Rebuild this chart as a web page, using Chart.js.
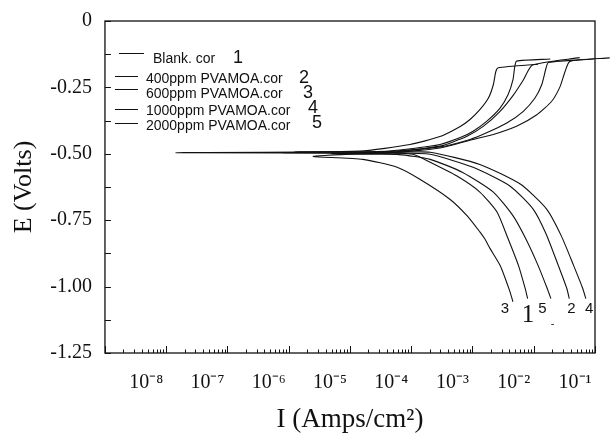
<!DOCTYPE html>
<html>
<head>
<meta charset="utf-8">
<script src="https://cdn.jsdelivr.net/npm/chart.js@4.4.0/dist/chart.umd.min.js"></script>
<style>
  html, body { margin: 0; padding: 0; background: #fff; }
</style>
</head>
<body>
<canvas id="tafelChart" width="610" height="433"></canvas>
<script>
// legend names and the tags written beside them
const seriesNames = ['Blank. cor', '400ppm PVAMOA.cor', '600ppm PVAMOA.cor', '1000ppm PVAMOA.cor', '2000ppm PVAMOA.cor'];
const seriesTags = ['1', '2', '3', '4', '5'];

// log10 of current density (A/cm2) and potential E (V)
// each curve: cathodic end -> Ecorr -> low-current spike -> anodic branch
const blankLogI = [-2.10, -2.14, -2.25, -2.43, -2.60, -2.88, -3.26, -3.69, -3.97, -4.30, -7.84, -4.84, -4.02, -3.53, -3.20, -3.04, -2.88, -2.74, -2.66, -2.62, -2.58, -1.93];
const blankE    = [-1.045, -1.007, -0.920, -0.813, -0.719, -0.644, -0.583, -0.532, -0.502, -0.498, -0.496, -0.490, -0.465, -0.435, -0.397, -0.371, -0.334, -0.290, -0.240, -0.191, -0.176, -0.163];

const ppm400LogI = [-1.42, -1.46, -1.60, -1.80, -2.01, -2.39, -2.99, -3.69, -4.30, -6.09, -4.60, -3.97, -3.53, -3.20, -2.99, -2.77, -2.55, -2.42, -2.34, -2.31, -2.28, -1.73];
const ppm400E    = [-1.045, -1.007, -0.920, -0.801, -0.708, -0.621, -0.551, -0.502, -0.497, -0.496, -0.494, -0.480, -0.465, -0.439, -0.415, -0.378, -0.328, -0.278, -0.222, -0.172, -0.151, -0.143];

const ppm600LogI = [-2.34, -2.39, -2.55, -2.71, -2.80, -2.88, -3.09, -3.37, -3.86, -4.23, -4.79, -5.60, -5.15, -4.50, -3.53, -3.09, -2.82, -2.55, -2.33, -2.17, -2.02, -1.25];
const ppm600E    = [-1.057, -1.018, -0.920, -0.858, -0.820, -0.794, -0.733, -0.671, -0.596, -0.551, -0.521, -0.510, -0.503, -0.499, -0.471, -0.434, -0.396, -0.340, -0.278, -0.222, -0.166, -0.138];

const ppm1000LogI = [-1.15, -1.20, -1.35, -1.55, -1.79, -2.22, -2.88, -3.69, -4.20, -5.90, -4.40, -3.53, -3.04, -2.77, -2.44, -2.17, -1.98, -1.87, -1.80, -1.76, -1.02];
const ppm1000E    = [-1.045, -1.007, -0.920, -0.809, -0.708, -0.614, -0.540, -0.494, -0.494, -0.493, -0.491, -0.474, -0.446, -0.421, -0.384, -0.340, -0.290, -0.240, -0.178, -0.156, -0.143];

const ppm2000LogI = [-1.72, -1.78, -1.93, -2.13, -2.34, -2.66, -3.16, -3.69, -4.20, -5.30, -4.30, -3.53, -2.99, -2.66, -2.28, -1.95, -1.71, -1.57, -1.49, -1.41, -0.76];
const ppm2000E    = [-1.045, -1.007, -0.920, -0.820, -0.733, -0.644, -0.570, -0.521, -0.503, -0.499, -0.495, -0.478, -0.446, -0.427, -0.396, -0.353, -0.303, -0.247, -0.191, -0.152, -0.139];

// axis ranges and labelled decades
const xMinExp = -9;
const xMaxExp = -1;
const xLabelExps = [-8, -7, -6, -5, -4, -3, -2, -1];
const yMin = -1.25;
const yMax = 0;
const yLabelStep = 0.25;

const supDigits = { '-': '\u207B', '0': '\u2070', '1': '\u00B9', '2': '\u00B2', '3': '\u00B3', '4': '\u2074', '5': '\u2075', '6': '\u2076', '7': '\u2077', '8': '\u2078', '9': '\u2079' };
const toSup = s => String(s).split('').map(c => supDigits[c] || c).join('');

const toPoints = (logI, e) => logI.map((v, i) => ({ x: Math.pow(10, v), y: e[i] }));

const curves = [
    [blankLogI, blankE],
    [ppm400LogI, ppm400E],
    [ppm600LogI, ppm600E],
    [ppm1000LogI, ppm1000E],
    [ppm2000LogI, ppm2000E]
];

const isDecade = v => {
    const e = Math.log10(v);
    return Math.abs(e - Math.round(e)) < 1e-6;
};

// box frame, inward ticks, legend and curve tags
const framePlugin = {
    id: 'frame',
    afterDraw(chart) {
        const { ctx, chartArea: a, scales } = chart;
        const xs = scales.x, ys = scales.y;
        ctx.save();
        ctx.strokeStyle = '#111';
        ctx.lineWidth = 1.3;
        ctx.strokeRect(a.left, a.top, a.right - a.left, a.bottom - a.top);

        ctx.lineWidth = 1;
        ctx.beginPath();
        xs.ticks.forEach(t => {
            const px = Math.round(xs.getPixelForValue(t.value)) + 0.5;
            const len = isDecade(t.value) ? 7 : 3.5;
            ctx.moveTo(px, a.bottom);
            ctx.lineTo(px, a.bottom - len);
        });
        ys.ticks.forEach(t => {
            const py = Math.round(ys.getPixelForValue(t.value)) + 0.5;
            ctx.moveTo(a.left, py);
            ctx.lineTo(a.left + 6, py);
        });
        ctx.stroke();

        // legend (positions relative to the plot box)
        const lineY = [32, 55, 68, 88, 102];
        const lineX = [[14, 39], [10, 33], [10, 33], [10, 33], [10, 33]];
        const textX = [48, 41, 41, 41, 41];
        const textY = [42, 61.5, 77, 94, 109];
        const tagX = [128, 194, 198, 203, 207];
        const tagY = [42, 61.5, 77, 92, 107];
        ctx.fillStyle = '#111';
        ctx.textBaseline = 'alphabetic';
        ctx.textAlign = 'left';
        seriesNames.forEach((name, i) => {
            ctx.beginPath();
            ctx.moveTo(a.left + lineX[i][0], a.top + lineY[i] + 0.5);
            ctx.lineTo(a.left + lineX[i][1], a.top + lineY[i] + 0.5);
            ctx.stroke();
            ctx.font = '14px "Liberation Sans", Arial, sans-serif';
            ctx.fillText(name, a.left + textX[i], a.top + textY[i]);
            ctx.font = '18px "Liberation Sans", Arial, sans-serif';
            ctx.fillText(seriesTags[i], a.left + tagX[i], a.top + tagY[i]);
        });

        // tags at the lower ends of the cathodic branches
        const endTags = [
            { t: '3', x: 395.7, y: 291.7, f: '15px "Liberation Sans", Arial, sans-serif' },
            { t: '1', x: 416.7, y: 300.7, f: '25px "Liberation Serif", serif' },
            { t: '5', x: 433.3, y: 291.7, f: '15px "Liberation Sans", Arial, sans-serif' },
            { t: '-', x: 445.7, y: 306, f: '11px "Liberation Sans", Arial, sans-serif' },
            { t: '2', x: 462.3, y: 291.7, f: '15px "Liberation Sans", Arial, sans-serif' },
            { t: '4', x: 480, y: 291.7, f: '15px "Liberation Sans", Arial, sans-serif' }
        ];
        endTags.forEach(tag => {
            ctx.font = tag.f;
            ctx.fillText(tag.t, a.left + tag.x, a.top + tag.y);
        });
        ctx.restore();
    }
};

const ctx = document.getElementById('tafelChart').getContext('2d');
new Chart(ctx, {
    type: 'line',
    data: {
        datasets: curves.map((c, i) => ({
            label: seriesNames[i],
            data: toPoints(c[0], c[1]),
            borderColor: '#111',
            borderWidth: 1.1,
            pointRadius: 0,
            fill: false,
            tension: 0.2,
            clip: i === 4 ? false : 0
        }))
    },
    options: {
        responsive: false,
        animation: false,
        layout: { padding: { left: 0, right: 15, top: 21, bottom: 0 } },
        plugins: {
            legend: { display: false },
            tooltip: { enabled: false }
        },
        scales: {
            x: {
                type: 'logarithmic',
                min: Math.pow(10, xMinExp),
                max: Math.pow(10, xMaxExp),
                // grid hidden; tickLength only reserves the gap above the labels
                grid: { display: false, drawTicks: true, tickLength: 18 },
                border: { display: false },
                afterBuildTicks: scale => {
                    const ticks = [];
                    for (let e = xMinExp; e < xMaxExp; e++) {
                        for (let m = 1; m <= 9; m++) ticks.push({ value: Number(m + 'e' + e) });
                    }
                    ticks.push({ value: Math.pow(10, xMaxExp) });
                    ticks.push({ value: Math.pow(10, xMaxExp) });
                    scale.ticks = ticks;
                },
                ticks: {
                    autoSkip: false,
                    maxRotation: 0,
                    minRotation: 0,
                    padding: 0,
                    labelOffset: -20,
                    color: '#111',
                    font: { family: '"Liberation Serif", serif', size: 20 },
                    callback: (value, index, ticks) => {
                        if (index === ticks.length - 1 || !isDecade(value)) return '';
                        const exp = Math.round(Math.log10(value));
                        return xLabelExps.includes(exp) ? '10' + toSup(exp) : '';
                    }
                },
                title: {
                    display: true,
                    text: 'I (Amps/cm\u00B2)',
                    color: '#111',
                    font: { family: '"Liberation Serif", serif', size: 27, lineHeight: 1 },
                    padding: { top: 11, bottom: 0 }
                }
            },
            y: {
                type: 'linear',
                min: yMin,
                max: yMax,
                grid: { display: false, drawTicks: true, tickLength: 13 },
                border: { display: false },
                ticks: {
                    stepSize: yLabelStep / 2,
                    padding: 0,
                    color: '#111',
                    font: { family: '"Liberation Serif", serif', size: 20 },
                    callback: value => {
                        const k = value / yLabelStep;
                        if (Math.abs(k - Math.round(k)) > 1e-6) return '';
                        return value === 0 ? '0' : value.toFixed(2);
                    }
                },
                title: {
                    display: true,
                    text: 'E (Volts)',
                    color: '#111',
                    font: { family: '"Liberation Serif", serif', size: 26, lineHeight: 1.2 },
                    padding: { top: 8.4, bottom: 10.7 }
                }
            }
        }
    },
    plugins: [framePlugin]
});
</script>
</body>
</html>
